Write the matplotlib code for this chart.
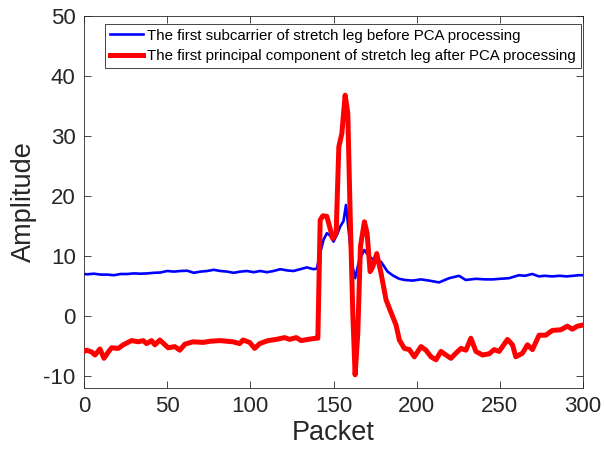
import matplotlib
matplotlib.use("Agg")
import matplotlib.pyplot as plt

# Blue: first subcarrier before PCA
blue_x = [0, 2, 6, 10, 14, 18, 22, 26, 30, 34, 38, 42, 46, 50, 54, 58, 62, 66, 70, 74,
          78, 82, 86, 90, 94, 98, 102, 106, 110, 114, 118, 122, 126, 130, 134, 138, 140,
          142, 144, 146, 148, 150, 152, 154, 156, 157.5, 159.5, 161.5, 163, 165.5, 168.5,
          171.5, 174.5, 178.5, 182.5, 186, 189.5, 193, 197.5, 202.5, 207.5, 213.5, 219.5,
          225.5, 229.5, 235.5, 241.5, 245.5, 250, 255.5, 261.5, 265, 269.5, 273.5, 277,
          281.5, 286, 290, 294, 297.5, 300]
blue_y = [7.0, 6.95, 7.05, 6.9, 6.9, 6.8, 7.0, 7.0, 7.1, 7.05, 7.1, 7.2, 7.25, 7.5, 7.4,
          7.5, 7.55, 7.2, 7.4, 7.5, 7.7, 7.5, 7.4, 7.2, 7.4, 7.5, 7.3, 7.5, 7.3, 7.5, 7.8,
          7.6, 7.5, 7.8, 8.1, 7.8, 7.9, 10.5, 12.7, 13.8, 13.4, 12.4, 13.5, 14.9, 15.8,
          18.5, 13.2, 8.2, 6.3, 9.3, 11.0, 9.9, 9.3, 9.05, 7.4, 6.7, 6.2, 6.0, 5.9, 6.1,
          5.9, 5.6, 6.3, 6.7, 6.0, 6.2, 6.1, 6.1, 6.2, 6.3, 6.8, 6.7, 7.0, 6.6, 6.7, 6.6,
          6.7, 6.6, 6.7, 6.8, 6.8]

# Red: first principal component after PCA
red_x = [0, 1.6, 4.6, 6.6, 9.6, 12, 14.6, 16.6, 20.6, 23.6, 28.6, 32.6, 35.6, 37.6, 40.6,
         42.6, 45.6, 50.6, 54.6, 57.6, 60.6, 65.6, 71.6, 76, 81.6, 89.6, 93.6, 95.6, 99.6,
         102.6, 105.6, 110.6, 115.6, 120.6, 123.6, 127.6, 130.6, 134.6, 139.6, 140.6, 142,
         143.6, 146, 149.6, 151.6, 153.2, 155, 157, 158.6, 160, 161.6, 163, 164.6, 166.2,
         168.6, 170.2, 172, 173.6, 176, 178.6, 181.6, 184, 187.6, 189.6, 192.6, 195.6,
         198.6, 202.6, 205.6, 208.6, 211.6, 214.6, 217.6, 220.6, 223.6, 226.6, 229.6,
         232.6, 235.6, 239.6, 243.6, 246.6, 249.6, 254.6, 257.6, 259.6, 263.6, 266.6,
         269.6, 273.6, 277.6, 281.6, 286.6, 290.6, 293.6, 296.6, 300]
red_y = [-5.9, -5.7, -6.0, -6.5, -5.5, -7.05, -6.0, -5.3, -5.4, -4.8, -4.1, -4.3, -4.1,
         -4.6, -4.1, -4.8, -4.0, -5.3, -5.1, -5.7, -4.7, -4.3, -4.4, -4.2, -4.1, -4.3,
         -4.6, -4.0, -4.4, -5.4, -4.6, -4.1, -3.9, -3.6, -3.9, -3.6, -4.1, -3.9, -3.7,
         -3.7, 16.0, 16.7, 16.6, 12.9, 13.8, 28.2, 30.4, 36.8, 33.8, 17.1, 0.5, -9.8,
         -2.9, 11.6, 15.7, 13.8, 7.4, 8.2, 10.4, 7.1, 2.7, 1.0, -1.5, -4.0, -5.4, -5.6,
         -6.8, -5.1, -5.7, -6.8, -7.3, -5.9, -6.5, -7.05, -6.2, -5.4, -5.7, -3.7, -5.9,
         -6.5, -6.3, -5.6, -5.9, -3.9, -4.8, -6.8, -6.2, -4.8, -5.6, -3.2, -3.2, -2.4,
         -2.3, -1.7, -2.2, -1.7, -1.5]

x_ticks = [0, 50, 100, 150, 200, 250, 300]
y_ticks = [-10, 0, 10, 20, 30, 40, 50]
labels = ["The first subcarrier of stretch leg before PCA processing",
          "The first principal component of stretch leg after PCA processing"]

plt.rcParams['font.family'] = ['Liberation Sans', 'DejaVu Sans']
plt.rcParams['axes.unicode_minus'] = False

fig = plt.figure(figsize=(6.04, 4.63), dpi=100)
ax = fig.add_axes([84/604, 75/463, 499/604, 372/463])

ax.plot(blue_x, blue_y, color='#0000ff', lw=1.9, label=labels[0],
        solid_joinstyle='round', zorder=2)
ax.plot(red_x, red_y, color='#ff0000', lw=3.6, label=labels[1],
        solid_joinstyle='round', zorder=3)

ax.set_xlim(0, 300)
ax.set_ylim(-12, 50)
ax.set_xticks(x_ticks)
ax.set_yticks(y_ticks)
ax.tick_params(direction='in', top=True, right=True, labelsize=16,
               length=5, width=0.6, colors='#262626', pad=6)
for s in ax.spines.values():
    s.set_color('#262626')
    s.set_linewidth(0.6)
ax.set_xlabel('Packet', fontsize=19.5, color='#262626', labelpad=2)
ax.set_ylabel('Amplitude', fontsize=19.5, color='#262626', labelpad=5)

leg = ax.legend(loc='upper right', bbox_to_anchor=(0.995, 0.979), borderaxespad=0,
                fontsize=10.8, frameon=True, fancybox=False, framealpha=1,
                edgecolor='#262626', handlelength=2.2, handletextpad=0.25,
                borderpad=0.32, labelspacing=0.45)
leg.get_frame().set_linewidth(0.6)

fig.savefig('out.png', dpi=100)
